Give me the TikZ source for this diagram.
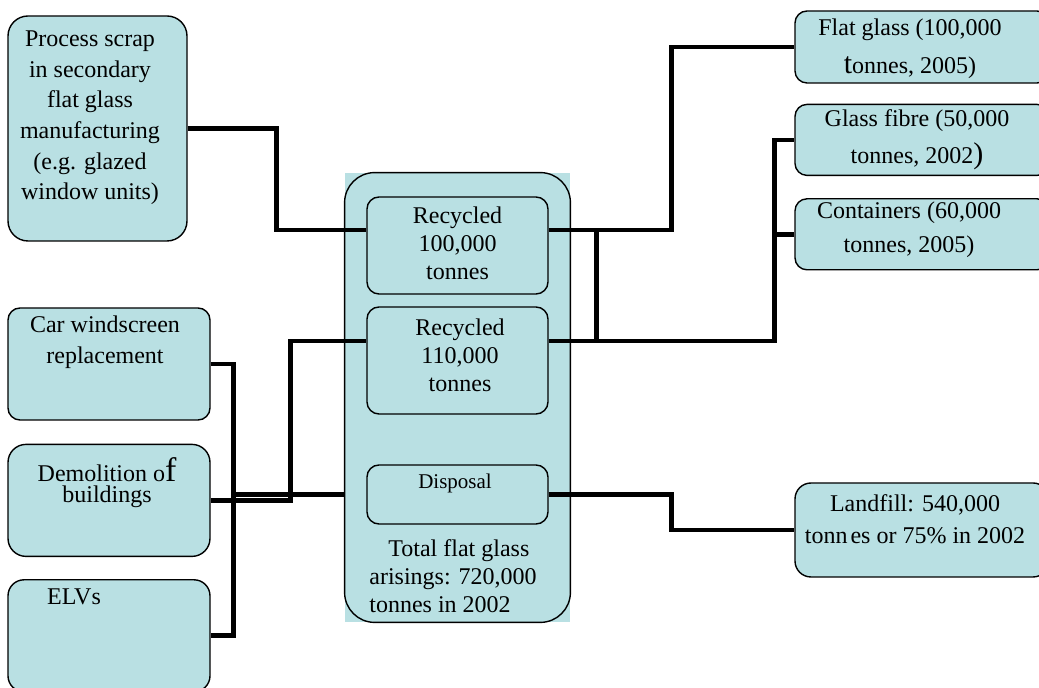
\documentclass[tikz,border=0pt]{standalone}
\usepackage{fontspec}
\setmainfont{Liberation Serif}
\usetikzlibrary{positioning}
\definecolor{glassBlue}{RGB}{185,224,227}
\tikzset{
  flowbox/.style={draw=black, line width=0.7pt, fill=glassBlue, inner sep=0pt, rounded corners=6pt},
  flowtext/.style={align=center, inner sep=0pt, font=\fontsize{12}{14}\selectfont},
  flowlink/.style={line width=2.3pt},
}

\begin{document}
\begin{tikzpicture}[x=0.5pt, y=-0.5pt]
\clip (0,0) rectangle (1039,688);

% sources
\node[flowbox, rounded corners=10pt, minimum width=89.5pt, minimum height=112.5pt] (scrap) at (97.5,128.5) {};
\node[flowbox, minimum width=101pt, minimum height=56pt] (car) at (109,364) {};
\node[flowbox, rounded corners=9pt, minimum width=101pt, minimum height=56pt, below=11.5pt of car] (demolition) {};
\node[flowbox, rounded corners=8pt, minimum width=101pt, minimum height=56pt, below=11pt of demolition] (elvs) {};

% total arisings
\node[minimum width=112.5pt, minimum height=224.5pt, inner sep=0pt] (total) at (457.5,397.5) {};
\fill[glassBlue] (total.south west) rectangle (total.north east);
\draw[line width=0.7pt, rounded corners=15pt] (total.south west) rectangle (total.north east);
\node[flowbox, minimum width=90.5pt, minimum height=48.5pt] (rec100) at (457.5,245.5) {};
\node[flowbox, minimum width=90.5pt, minimum height=53.5pt] (rec110) at (457.5,360.5) {};
\node[flowbox, minimum width=90.5pt, minimum height=29.5pt] (disposal) at (457.5,494.5) {};

% outlets
\node[flowbox, minimum width=127pt, minimum height=36pt] (flatglass) at (922,47) {};
\node[flowbox, minimum width=127pt, minimum height=35.5pt, below=10pt of flatglass] (fibre) {};
\node[flowbox, minimum width=127pt, minimum height=35.5pt, below=11pt of fibre] (containers) {};
\node[flowbox, rounded corners=8pt, minimum width=127pt, minimum height=47pt] (landfill) at (922,530) {};

% texts
\node[flowtext, font=\fontsize{12}{15.3}\selectfont] (scrap-text) at (90,118) {Process scrap\\in secondary\\flat glass\\manufacturing\\(e.g. glazed\\window units)};
\node[flowtext, font=\fontsize{12}{15.5}\selectfont] (car-text) at (105,342.5) {Car windscreen\\replacement};
\node[flowtext, font=\fontsize{12}{10.5}\selectfont] (demolition-text) at (107,483) {Demolition o{\fontsize{17}{17}\selectfont f}\\buildings};
\node[flowtext] (elvs-text) at (74,597) {ELVs};
\node[flowtext, align=left, anchor=west] (total-text) at (369,576) {\hspace*{9.5pt}Total flat glass\\arisings: 720,000\\tonnes in 2002};
\node[flowtext] (rec100-text) at (457.5,243) {Recycled\\100,000\\tonnes};
\node[flowtext] (rec110-text) at (460,355) {Recycled\\110,000\\tonnes};
\node[flowtext, font=\fontsize{10.5}{12}\selectfont] (disposal-text) at (455,483) {Disposal};
\node[flowtext, font=\fontsize{12}{19}\selectfont] (flatglass-text) at (910,49) {Flat glass (100,000\\{\fontsize{15}{19}\selectfont t}onnes, 2005)};
\node[flowtext, font=\fontsize{12}{18.5}\selectfont] (fibre-text) at (917,140) {Glass fibre (50,000\\tonnes, 2002{\fontsize{15}{18.5}\selectfont )}};
\node[flowtext, font=\fontsize{12}{17}\selectfont] (containers-text) at (909,230) {Containers (60,000\\tonnes, 2005)};
\node[flowtext, font=\fontsize{12}{16}\selectfont] (landfill-text) at (915,519) {Landfill: 540,000\\tonn\kern1.5pt es or 75\% in 2002};

% connectors
\coordinate (rec100in) at ([yshift=7.75pt]rec100.west);
\coordinate (rec100out) at ([yshift=7.75pt]rec100.east);
\coordinate (rec110in) at ([yshift=9.75pt]rec110.west);
\coordinate (rec110out) at ([yshift=9.75pt]rec110.east);
\coordinate (leftbus) at ([xshift=11.5pt]car.east);
\coordinate (rightbus) at ([xshift=-10pt]fibre.west);
\coordinate (totalin) at (total.west |- disposal.west);

\draw[flowlink] (scrap.east) -- ++(89,0) |- (rec100in);
\draw[flowlink] (car.east) -- (leftbus) |- (elvs.east);
\draw[flowlink] (demolition.east) -- ++(80,0) |- (rec110in);
\draw[flowlink] (totalin) -- (totalin -| leftbus);
\draw[flowlink] (rec100out) -- ++(123,0) |- (flatglass.west);
\draw[flowlink] ([xshift=24pt]rec100out) -- ([xshift=24pt]rec110out);
\draw[flowlink] (rec110out) -| (rightbus) -- (fibre.west);
\draw[flowlink] (containers.west) -- (containers.west -| rightbus);
\draw[flowlink] (disposal.east) -- ++(123,0) |- (landfill.west);
\end{tikzpicture}
\end{document}
